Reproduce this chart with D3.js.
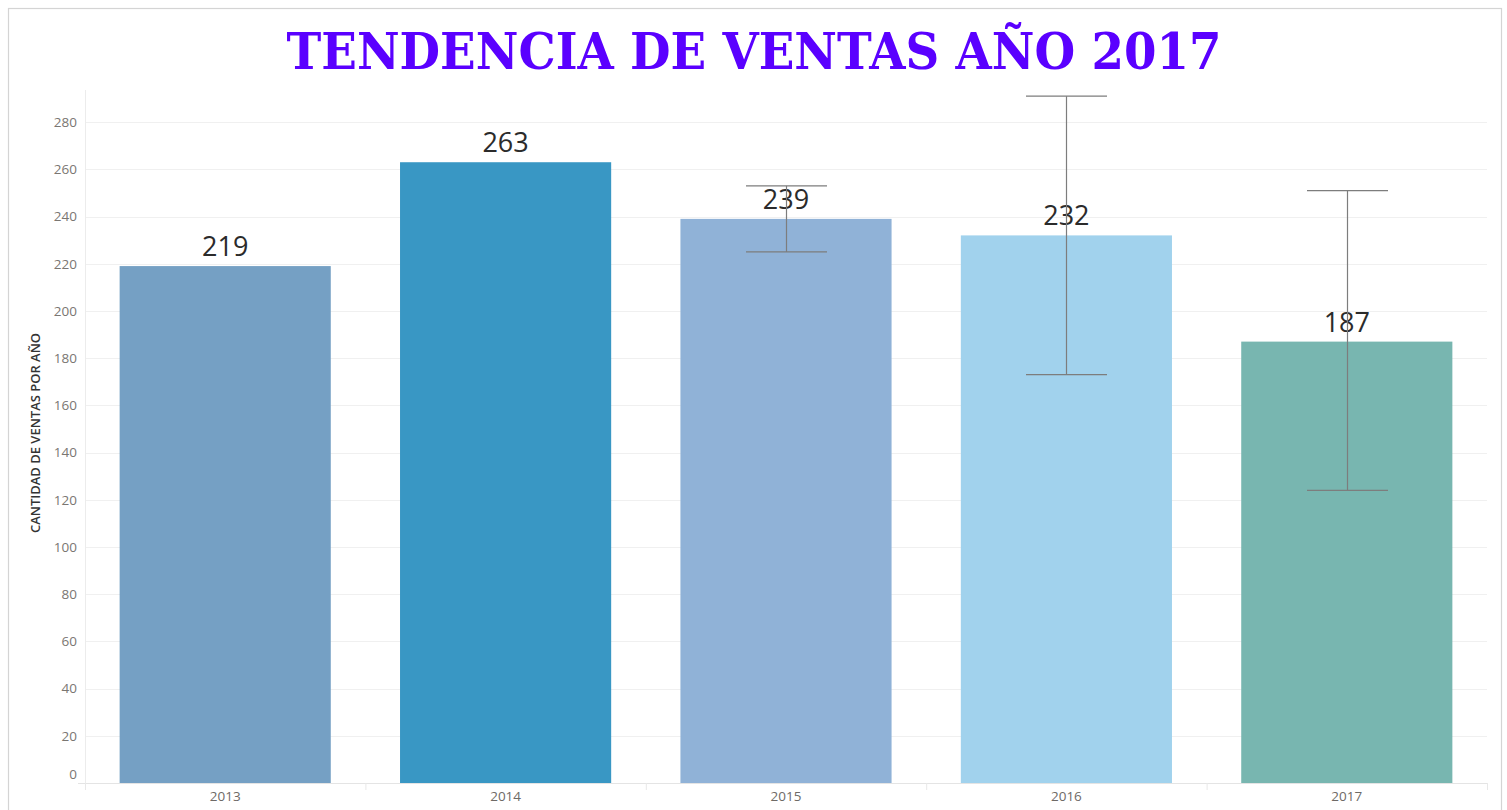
<!DOCTYPE html>
<html>
<head>
<meta charset="utf-8">
<script src="https://cdn.jsdelivr.net/npm/d3@7"></script>
<style>
  html, body { margin: 0; padding: 0; background: #fff; }
  svg { display: block; }
</style>
</head>
<body>
<svg id="chart" width="1507" height="810"></svg>
<script>
// Sales per year, with a range (low/high) for the later years
const years = ["2013", "2014", "2015", "2016", "2017"];
const sales = [219, 263, 239, 232, 187];
const rangeLow = [null, null, 225, 173, 124];
const rangeHigh = [null, null, 253, 291, 251];
const barColors = ["#75a0c4", "#3997c4", "#90b2d7", "#a1d2ed", "#78b6b0"];
const yTicks = [0, 20, 40, 60, 80, 100, 120, 140, 160, 180, 200, 220, 240, 260, 280];
const yMax = 293.6;

const title = "TENDENCIA DE VENTAS AÑO 2017";
const yTitle = "CANTIDAD DE VENTAS POR AÑO";

const svg = d3.select("#chart");
const plot = { left: 85, right: 1487, top: 90, bottom: 783 };

// outer frame
svg.append("rect")
  .attr("x", 8.5).attr("y", 8.5)
  .attr("width", 1493).attr("height", 812)
  .attr("fill", "#fff")
  .attr("stroke", "#d4d4d4").attr("stroke-width", 1.2);

const x = d3.scaleBand().domain(years).range([plot.left, plot.right]).paddingInner(0.247).paddingOuter(0.1235);
const band = d3.scaleBand().domain(years).range([plot.left, plot.right]);
const y = d3.scaleLinear().domain([0, yMax]).range([plot.bottom, plot.top]);

// title
svg.append("text")
  .attr("x", 754).attr("y", 69)
  .attr("text-anchor", "middle")
  .attr("textLength", 935)
  .attr("lengthAdjust", "spacingAndGlyphs")
  .attr("font-family", "'DejaVu Serif', serif")
  .attr("font-weight", "bold")
  .attr("font-size", 50)
  .attr("fill", "#5a00ff")
  .text(title);

// horizontal gridlines
svg.append("g")
  .selectAll("line")
  .data(yTicks.filter(d => d > 0))
  .join("line")
  .attr("x1", plot.left).attr("x2", plot.right)
  .attr("y1", d => Math.round(y(d)) + 0.5).attr("y2", d => Math.round(y(d)) + 0.5)
  .attr("stroke", "#f0f0f0");

// left axis line
svg.append("line")
  .attr("x1", plot.left + 0.5).attr("x2", plot.left + 0.5)
  .attr("y1", plot.top).attr("y2", plot.bottom + 7)
  .attr("stroke", "#ececec");

// y axis tick labels
const yAxis = d3.axisLeft(y).tickValues(yTicks).tickSize(0).tickPadding(8);
const gy = svg.append("g").attr("transform", `translate(${plot.left},0)`).call(yAxis);
gy.select(".domain").remove();
gy.selectAll("text")
  .attr("font-family", "'Open Sans', sans-serif")
  .attr("font-size", 13.5)
  .attr("fill", "#7a7672")
  .attr("dy", d => d === 0 ? "-0.35em" : "0.32em");

// y axis title
svg.append("text")
  .attr("transform", `translate(40,433) rotate(-90)`)
  .attr("text-anchor", "middle")
  .attr("textLength", 200)
  .attr("lengthAdjust", "spacingAndGlyphs")
  .attr("font-family", "'Open Sans', sans-serif")
  .attr("font-weight", 600)
  .attr("font-size", 12.5)
  .attr("fill", "#333")
  .text(yTitle);

// bars
svg.append("g")
  .selectAll("rect")
  .data(years)
  .join("rect")
  .attr("x", d => x(d))
  .attr("width", x.bandwidth())
  .attr("y", (d, i) => y(sales[i]))
  .attr("height", (d, i) => y(0) - y(sales[i]))
  .attr("fill", (d, i) => barColors[i]);

// bottom axis line and band separators
svg.append("line")
  .attr("x1", 78).attr("x2", plot.right)
  .attr("y1", plot.bottom + 0.5).attr("y2", plot.bottom + 0.5)
  .attr("stroke", "#e4e4e4");
svg.append("g")
  .selectAll("line")
  .data(years.map(d => band(d)).concat([plot.right]))
  .join("line")
  .attr("x1", d => d + 0.5).attr("x2", d => d + 0.5)
  .attr("y1", plot.bottom).attr("y2", plot.bottom + 7)
  .attr("stroke", "#e8e8e8");

// x axis labels
const xAxis = d3.axisBottom(band).tickSize(0).tickPadding(8);
const gx = svg.append("g").attr("transform", `translate(0,${plot.bottom})`).call(xAxis);
gx.select(".domain").remove();
gx.selectAll("text")
  .attr("font-family", "'Open Sans', sans-serif")
  .attr("font-size", 13.5)
  .attr("fill", "#6e6a66");

// value labels
svg.append("g")
  .selectAll("text")
  .data(years)
  .join("text")
  .attr("x", d => band(d) + band.bandwidth() / 2)
  .attr("y", (d, i) => y(sales[i]) - 10)
  .attr("text-anchor", "middle")
  .attr("font-family", "'Open Sans', sans-serif")
  .attr("font-size", 27)
  .attr("fill", "#2b2b2b")
  .text((d, i) => sales[i]);

// range whiskers
const ranges = years.map((d, i) => ({ year: d, lo: rangeLow[i], hi: rangeHigh[i] }))
  .filter(r => r.lo !== null);
const capHalf = 40.5;
const gr = svg.append("g").attr("stroke", "#7d7d7d").attr("stroke-width", 1.2);
ranges.forEach(r => {
  const cx = Math.round(band(r.year) + band.bandwidth() / 2) + 0.5;
  gr.append("line").attr("x1", cx).attr("x2", cx).attr("y1", y(r.hi)).attr("y2", y(r.lo));
  gr.append("line").attr("x1", cx - capHalf).attr("x2", cx + capHalf).attr("y1", y(r.hi)).attr("y2", y(r.hi));
  gr.append("line").attr("x1", cx - capHalf).attr("x2", cx + capHalf).attr("y1", y(r.lo)).attr("y2", y(r.lo));
});
</script>
</body>
</html>
